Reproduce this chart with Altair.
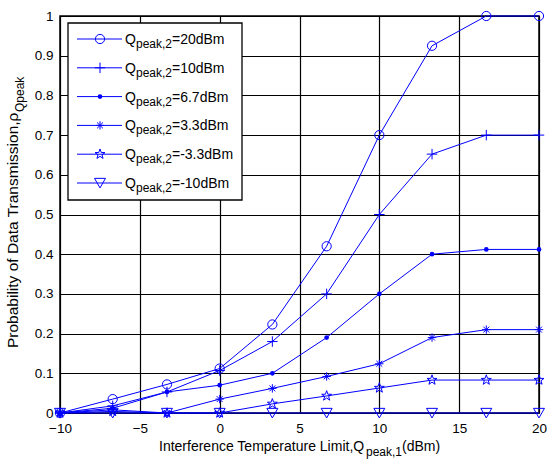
import altair as alt
import pandas as pd
import numpy as np

# ---------------- data ----------------
x_vals = [-10, -6.7, -3.3, 0, 3.3, 6.7, 10, 13.3, 16.7, 20]
p_20 = [0.0, 0.035, 0.072, 0.112, 0.223, 0.42, 0.70, 0.925, 1.0, 1.0]
p_10 = [0.0, 0.018, 0.053, 0.107, 0.18, 0.30, 0.50, 0.652, 0.70, 0.70]
p_6_7 = [0.0, 0.012, 0.053, 0.07, 0.10, 0.19, 0.30, 0.40, 0.412, 0.412]
p_3_3 = [0.0, 0.008, 0.0, 0.035, 0.062, 0.092, 0.124, 0.19, 0.21, 0.21]
p_m3_3 = [0.0, 0.004, 0.0, 0.0, 0.023, 0.043, 0.063, 0.083, 0.083, 0.083]
p_m10 = [0.0, 0.0, 0.0, 0.0, 0.0, 0.0, 0.0, 0.0, 0.0, 0.0]

series_tails = ["=20dBm", "=10dBm", "=6.7dBm", "=3.3dBm", "=-3.3dBm", "=-10dBm"]
series_vals = [p_20, p_10, p_6_7, p_3_3, p_m3_3, p_m10]
x_ticks = [-10, -5, 0, 5, 10, 15, 20]
y_ticks = [0, 0.1, 0.2, 0.3, 0.4, 0.5, 0.6, 0.7, 0.8, 0.9, 1.0]

# ---------------- styling ----------------
FONT = "Liberation Sans"
BLUE = "#0000ff"
W, H = 479, 397


def star_path():
    pts = []
    for k in range(10):
        r = 1.0 if k % 2 == 0 else 0.4
        a = -np.pi / 2 + k * np.pi / 5
        pts.append(f"{r*np.cos(a):.3f},{r*np.sin(a):.3f}")
    return "M" + "L".join(pts) + "Z"


ASTERISK = "M-1,0L1,0M0,-1L0,1M-0.7,-0.7L0.7,0.7M-0.7,0.7L0.7,-0.7"
PLUS = "M-1,0L1,0M0,-1L0,1"
TRI_DOWN = "M-1,-0.85L1,-0.85L0,0.9Z"

marker_styles = [
    dict(shape="circle", size=85, filled=False),
    dict(shape=PLUS, size=110, filled=False),
    dict(shape="circle", size=22, filled=True),
    dict(shape=ASTERISK, size=70, filled=False),
    dict(shape=star_path(), size=110, filled=False),
    dict(shape=TRI_DOWN, size=120, filled=False),
]

xs = alt.Scale(domain=[-10, 20], nice=False, zero=False)
ys = alt.Scale(domain=[0, 1], nice=False)

x_axis = alt.Axis(values=x_ticks, title=None, grid=True, gridColor="black",
                  gridWidth=1.2, gridOpacity=1, domain=False, ticks=False,
                  labelFontSize=13.5, labelColor="black", labelPadding=8,
                  labelFont=FONT, labelFlush=False)
y_axis = alt.Axis(values=y_ticks, title=None, grid=True, gridColor="black",
                  gridWidth=1.2, gridOpacity=1, domain=False, ticks=False,
                  labelFontSize=13.5, labelColor="black", labelPadding=7,
                  labelFont=FONT, format=".1~f", labelFlush=False)

layers = []
for i, (vals, st) in enumerate(zip(series_vals, marker_styles)):
    d = pd.DataFrame({"x": x_vals, "p": vals})
    enc = dict(x=alt.X("x:Q", scale=xs, axis=x_axis),
               y=alt.Y("p:Q", scale=ys, axis=y_axis))
    layers.append(alt.Chart(d).mark_line(color=BLUE, strokeWidth=1).encode(**enc))
    layers.append(alt.Chart(d).mark_point(color=BLUE, opacity=1, strokeWidth=1,
                                          **st).encode(**enc))


def txt(s, x, y, size=14, angle=0, align="left", baseline="alphabetic"):
    kw = dict(font=FONT, fontSize=size, color="black", align=align, baseline=baseline)
    if angle:
        kw["angle"] = angle
    return alt.Chart(pd.DataFrame({"t": [s]})).mark_text(**kw).encode(
        text="t:N", x=alt.value(x), y=alt.value(y))


# ---------------- legend ----------------
one = pd.DataFrame({"a": [0]})
layers.append(alt.Chart(one).mark_rect(fill="white", stroke="black", strokeWidth=1.3).encode(
    x=alt.value(8), x2=alt.value(182), y=alt.value(7), y2=alt.value(184)))
for i, (tail, st) in enumerate(zip(series_tails, marker_styles)):
    ry = 23 + i * 28.8
    layers.append(alt.Chart(one).mark_rule(color=BLUE, strokeWidth=1).encode(
        x=alt.value(17), x2=alt.value(62), y=alt.value(ry)))
    layers.append(alt.Chart(one).mark_point(color=BLUE, opacity=1, strokeWidth=1, **st).encode(
        x=alt.value(40), y=alt.value(ry)))
    layers.append(txt("Q", 65, ry + 5, 14))
    layers.append(txt("peak,2", 76, ry + 9, 12))
    layers.append(txt(tail, 112, ry + 5, 14))

# ---------------- axis titles ----------------
layers.append(txt("Interference Temperature Limit,Q", 99, 435, 14))
layers.append(txt("peak,1", 306, 440, 12))
layers.append(txt("(dBm)", 342, 435, 14))

layers.append(txt("Probability of Data Transmission,\u03c1", -42, 332, 15.5, angle=270))
layers.append(txt("Qpeak", -36, 96, 12, angle=270))

chart = alt.layer(*layers).properties(
    width=W, height=H,
    autosize=alt.AutoSizeParams(type="none"),
    padding={"left": 60, "top": 16, "right": 8, "bottom": 46},
    background="white",
).configure_view(stroke="black", strokeWidth=1.5)

chart.save("out.html", embed_options={"renderer": "svg", "actions": False})
